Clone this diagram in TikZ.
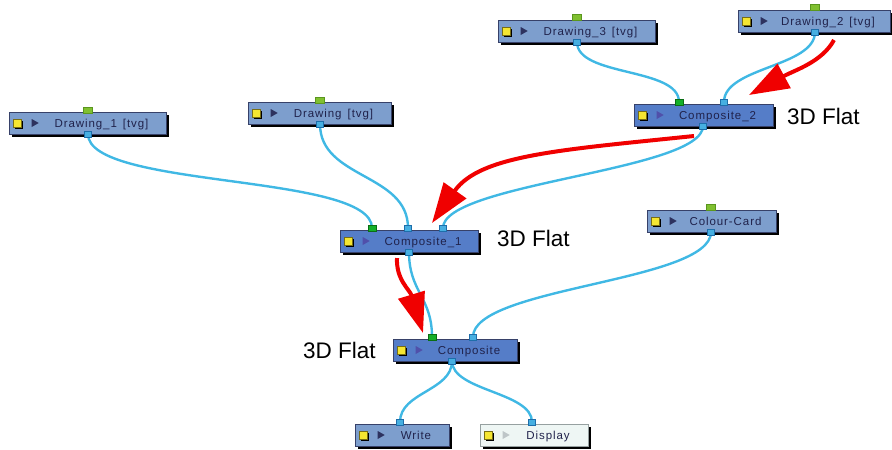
\documentclass[tikz,border=0pt]{standalone}
\usepackage{fontspec}
\setmainfont{Liberation Sans}
\newfontfamily\nodefont[LetterSpace=8]{Liberation Sans}
\usetikzlibrary{shadows,arrows.meta,calc}
\pgfdeclarelayer{bg}
\pgfsetlayers{bg,main}
\definecolor{drawfill}{RGB}{125,158,205}
\definecolor{compfill}{RGB}{85,125,200}
\definecolor{dispfill}{RGB}{238,246,244}
\definecolor{dispedge}{RGB}{150,160,160}
\definecolor{boxedge}{RGB}{55,65,105}
\definecolor{nodetext}{RGB}{32,34,75}
\definecolor{wireblue}{RGB}{64,184,228}
\definecolor{portblue}{RGB}{70,175,225}
\definecolor{portedge}{RGB}{30,110,170}
\definecolor{lgreen}{RGB}{128,192,48}
\definecolor{lgreenedge}{RGB}{90,150,30}
\definecolor{cgreen}{RGB}{20,175,40}
\definecolor{cgreenedge}{RGB}{10,110,20}
\definecolor{icony}{RGB}{245,230,50}
\definecolor{iconedge}{RGB}{120,110,20}
\definecolor{tridark}{RGB}{45,50,95}
\definecolor{tripurple}{RGB}{80,80,170}
\definecolor{trigray}{RGB}{190,198,200}
\definecolor{arrowred}{RGB}{240,0,0}
\tikzset{
  box/.style={rectangle, draw=boxedge, line width=0.6pt, inner sep=0pt,
    minimum height=22pt, text height=9.5pt, text depth=0.5pt,
    font=\nodefont\fontsize{11.5}{13}\selectfont, text=nodetext,
    drop shadow={shadow xshift=3pt, shadow yshift=-3pt, opacity=1, fill=black}},
  drawbox/.style={box, fill=drawfill},
  compbox/.style={box, fill=compfill},
  dispbox/.style={box, fill=dispfill, draw=dispedge},
  port/.style={rectangle, inner sep=0pt, line width=0.5pt, minimum width=7pt, minimum height=6pt},
  bport/.style={port, draw=portedge, fill=portblue},
  lgport/.style={port, draw=lgreenedge, fill=lgreen, minimum width=9pt},
  cgport/.style={port, draw=cgreenedge, fill=cgreen, minimum width=8pt},
  wire/.style={draw=wireblue, line width=2.4pt},
  redarrow/.style={draw=arrowred, line width=4pt, -{Triangle[length=40pt,width=27pt]}},
  flat/.style={font=\fontsize{22.5}{26}\selectfont, anchor=west, inner sep=0pt},
  iconsq/.style={fill=icony, draw=iconedge, line width=0.3pt}
}
\newcommand\flownode[7]{%
  \node[#5, minimum width=#4] (#1) at (#2,#3) {\hspace*{28pt}#7};
  \fill[black] ($(#1.west)+(6,-2)$) rectangle ++(8,8);
  \filldraw[iconsq] ($(#1.west)+(4,-4)$) rectangle ++(8,8);
  \fill[#6] ($(#1.west)+(23,-4)$) -- ++(0,8) -- ++(7,-4) -- cycle;
}
\begin{document}
\begin{tikzpicture}[x=1pt,y=-1pt]
\useasboundingbox (0,0) rectangle (892,450);
% nodes
\flownode{d1}{87.5}{123}{157pt}{drawbox}{tridark}{Drawing\_1\, [tvg]}
\flownode{d0}{319.5}{113}{143pt}{drawbox}{tridark}{Drawing\, [tvg]}
\flownode{d3}{576.5}{31}{157pt}{drawbox}{tridark}{Drawing\_3\, [tvg]}
\flownode{d2}{814}{21}{152pt}{drawbox}{tridark}{Drawing\_2\, [tvg]}
\flownode{c2}{703.5}{115}{139pt}{compbox}{tripurple}{Composite\_2}
\flownode{c1}{409}{241}{138pt}{compbox}{tripurple}{Composite\_1}
\flownode{c0}{455}{350}{124pt}{compbox}{tripurple}{Composite}
\flownode{cc}{711.5}{221}{129pt}{drawbox}{tridark}{Colour-Card}
\flownode{wr}{402}{435}{94pt}{drawbox}{tridark}{Write}
\flownode{dp}{534}{435}{108pt}{dispbox}{trigray}{Display}
% ports
\node[lgport] (d1top) at (88,110) {};
\node[bport] (d1out) at (88,134) {};
\node[lgport] (d0top) at (320,100) {};
\node[bport] (d0out) at (320,124) {};
\node[lgport] (d3top) at (577,17) {};
\node[bport] (d3out) at (577,42) {};
\node[lgport] (d2top) at (815,7) {};
\node[bport] (d2out) at (815,32) {};
\node[cgport] (c2in1) at (679,102) {};
\node[bport] (c2in2) at (724,102) {};
\node[bport] (c2out) at (703,126) {};
\node[cgport] (c1in1) at (372,228) {};
\node[bport] (c1in2) at (408,228) {};
\node[bport] (c1in3) at (443,228) {};
\node[bport] (c1out) at (409,252) {};
\node[cgport] (c0in1) at (432,337) {};
\node[bport] (c0in2) at (473,337) {};
\node[bport] (c0out) at (452,361) {};
\node[lgport] (cctop) at (711,207) {};
\node[bport] (ccout) at (711,232) {};
\node[bport] (wrin) at (400,422) {};
\node[bport] (dpin) at (532,422) {};
% wires
\begin{pgfonlayer}{bg}
\draw[wire] (d1out.center) .. controls +(0,55) and +(0,-55) .. (c1in1.center);
\draw[wire] (d0out.center) .. controls +(0,55) and +(0,-55) .. (c1in2.center);
\draw[wire] (d3out.center) .. controls +(0,35) and +(0,-35) .. (c2in1.center);
\draw[wire] (d2out.center) .. controls +(0,35) and +(0,-35) .. (c2in2.center);
\draw[wire] (c2out.center) .. controls +(0,45) and +(0,-45) .. (c1in3.center);
\draw[wire] (c1out.center) .. controls +(0,40) and +(0,-40) .. (c0in1.center);
\draw[wire] (ccout.center) .. controls +(0,50) and +(0,-50) .. (c0in2.center);
\draw[wire] (c0out.center) .. controls +(0,30) and +(0,-30) .. (wrin.center);
\draw[wire] (c0out.center) .. controls +(0,30) and +(0,-30) .. (dpin.center);
\end{pgfonlayer}
% labels
\node[flat] (f2) at (787,116) {3D Flat};
\node[flat] (f1) at (497,238) {3D Flat};
\node[flat] (f0) at (303,350) {3D Flat};
% red arrows
\coordinate (r1s) at (834,40);
\coordinate (r1e) at (749,95);
\coordinate (r2s) at (694,136);
\coordinate (r2e) at (432,223);
\coordinate (r3s) at (397,258);
\coordinate (r3e) at (423,333);
\draw[redarrow] (r1s) .. controls (822,62) and (795,70) .. (r1e);
\draw[redarrow] (r2s) .. controls (560,150) and (480,155) .. (r2e);
\draw[redarrow] (r3s) .. controls (396,280) and (410,290) .. (r3e);
\end{tikzpicture}
\end{document}
